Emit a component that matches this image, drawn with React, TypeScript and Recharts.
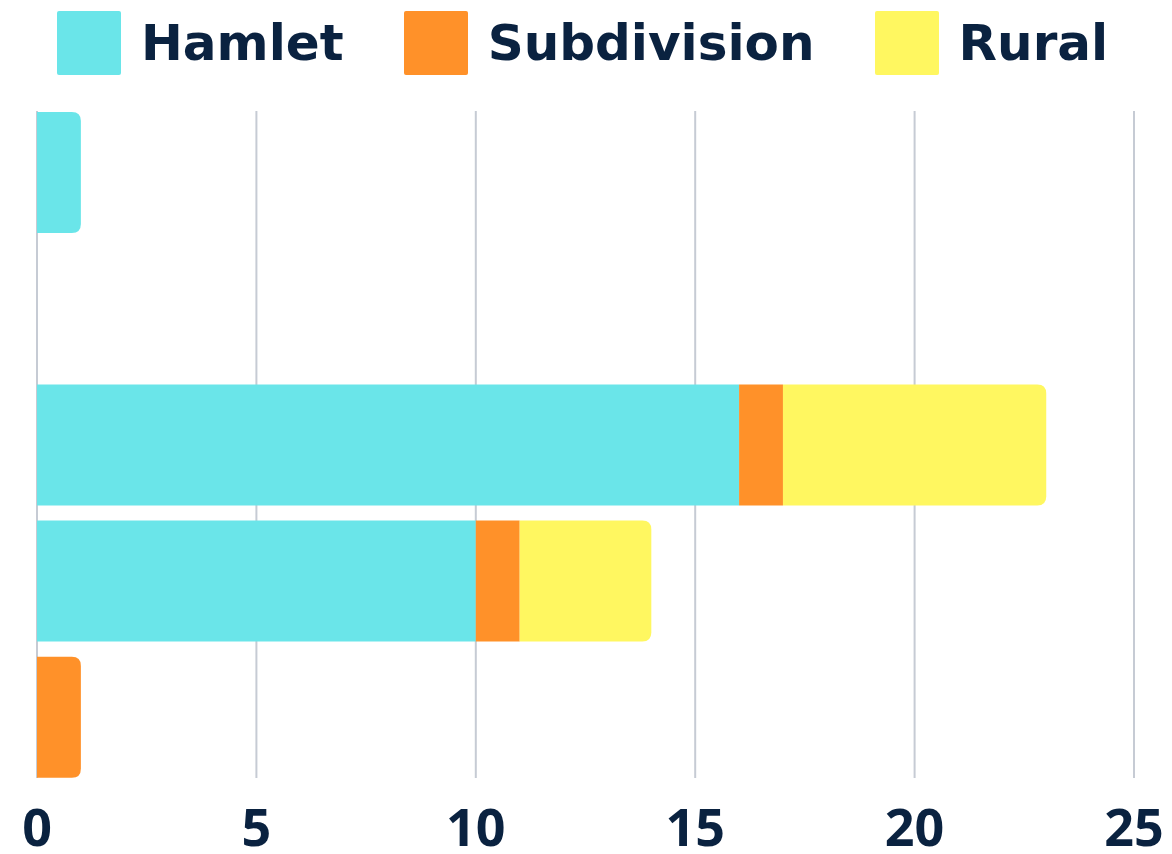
import React from "react";
import { BarChart, Bar, XAxis, YAxis, CartesianGrid, Legend } from "recharts";

const categories = ["Row 1", "Row 2", "Row 3", "Row 4", "Row 5"];
const hamlet = [1, 0, 16, 10, 0];
const subdivision = [0, 0, 1, 1, 1];
const rural = [0, 0, 6, 3, 0];
const xTicks = [0, 5, 10, 15, 20, 25];

const seriesKeys = ["Hamlet", "Subdivision", "Rural"];
const seriesColors: Record<string, string> = {
  Hamlet: "#6ae5e9",
  Subdivision: "#ff9129",
  Rural: "#fff760",
};

const data = categories.map((c, i) => ({
  name: c,
  Hamlet: hamlet[i],
  Subdivision: subdivision[i],
  Rural: rural[i],
}));

const TEXT = "#0a2240";

function makeShape(key: string) {
  const idx = seriesKeys.indexOf(key);
  return (props: any) => {
    const { x, y, width, height, fill, payload } = props;
    if (!width || width <= 0) return <g />;
    const isLast = seriesKeys
      .slice(idx + 1)
      .every((k) => !payload || !(payload[k] > 0));
    const r = isLast ? Math.min(9, width / 2, height / 2) : 0;
    const x2 = x + width;
    const y2 = y + height;
    const d = `M${x},${y} L${x2 - r},${y} Q${x2},${y} ${x2},${y + r} L${x2},${y2 - r} Q${x2},${y2} ${x2 - r},${y2} L${x},${y2} Z`;
    return <path d={d} fill={fill} />;
  };
}

const LegendContent = (props: any) => {
  const { payload } = props;
  const items = seriesKeys
    .map((k) => (payload || []).find((p: any) => p.value === k || p.dataKey === k))
    .filter(Boolean);
  return (
    <div
      style={{
        display: "flex",
        alignItems: "center",
        height: 64,
        paddingLeft: 20,
        fontFamily: "'DejaVu Sans', sans-serif",
        fontWeight: 700,
        fontSize: 50,
        color: TEXT,
      }}
    >
      {items.map((p: any) => (
        <div
          key={p.value}
          style={{ display: "flex", alignItems: "center", marginRight: 60 }}
        >
          <div
            style={{
              width: 64,
              height: 64,
              background: p.color,
              borderRadius: 2,
              marginRight: 20,
            }}
          />
          <span style={{ lineHeight: "64px" }}>{p.value}</span>
        </div>
      ))}
    </div>
  );
};

export default function App() {
  return (
    <div style={{ width: 1164, height: 846 }}>
      <BarChart
        width={1164}
        height={846}
        data={data}
        layout="vertical"
        margin={{ top: 39, right: 38, bottom: 0, left: 29 }}
        barSize={121}
      >
        <Legend
          verticalAlign="top"
          align="left"
          content={<LegendContent />}
          wrapperStyle={{ left: 29, top: 3 }}
        />
        <CartesianGrid
          horizontal={false}
          stroke="#c6cbd4"
          strokeWidth={2}
        />
        <XAxis
          type="number"
          domain={[0, 25]}
          ticks={xTicks}
          axisLine={false}
          tickLine={false}
          tickSize={0}
          tickMargin={31}
          height={76}
          interval={0}
          tick={{
            fill: TEXT,
            fontSize: 52,
            fontWeight: 700,
            fontFamily: "'Open Sans', sans-serif",
          }}
        />
        <YAxis
          type="category"
          dataKey="name"
          width={0}
          tick={false}
          tickLine={false}
          axisLine={{ stroke: "#8e96a3", strokeWidth: 2 }}
          padding={{ top: -7, bottom: -7 }}
        />
        {seriesKeys.map((k) => (
          <Bar
            key={k}
            dataKey={k}
            stackId="a"
            fill={seriesColors[k]}
            isAnimationActive={false}
            shape={makeShape(k)}
          />
        ))}
      </BarChart>
    </div>
  );
}
